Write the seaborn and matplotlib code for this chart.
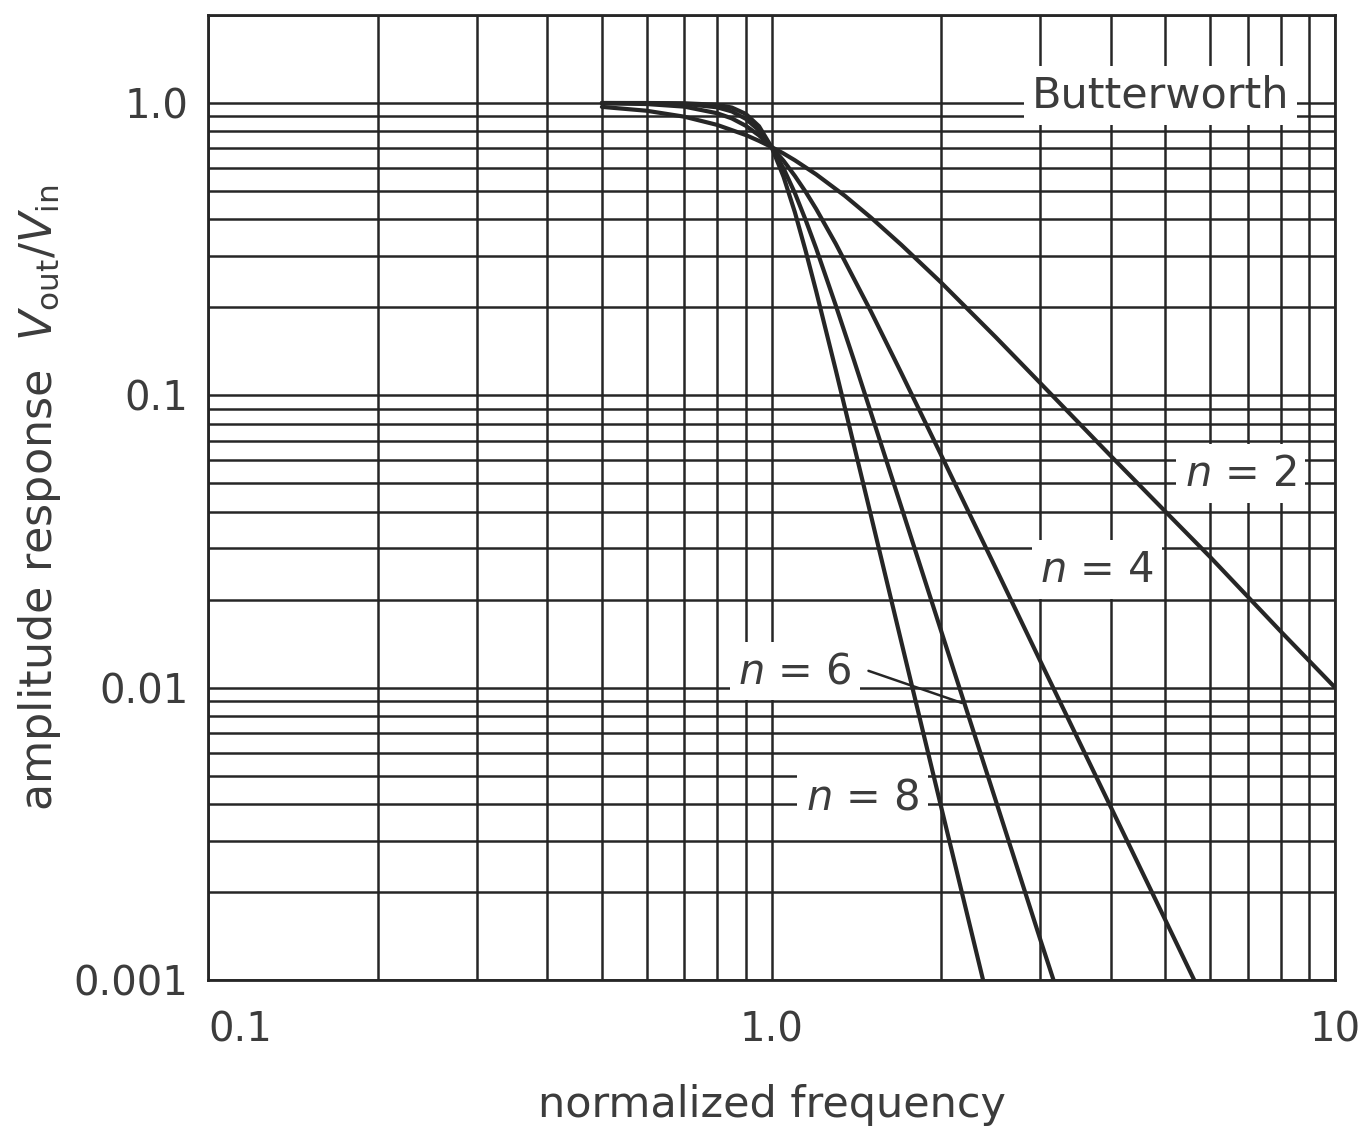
import numpy as np
import pandas as pd
import seaborn as sns
import matplotlib.pyplot as plt
from matplotlib.ticker import LogLocator, NullFormatter, FixedLocator, FixedFormatter

# values (normalized frequency -> Vout/Vin)
freq_n2 = [0.5, 0.6, 0.7, 0.8, 0.9, 0.95, 1.0, 1.05, 1.1, 1.2, 1.35, 1.5, 1.7, 2.0, 2.5, 3.0, 4.0, 5.0, 6.0, 8.0, 10.0]
amp_n2 = [0.970, 0.941, 0.898, 0.842, 0.777, 0.742, 0.707, 0.672, 0.637, 0.570, 0.481, 0.406, 0.327, 0.243, 0.158, 0.110, 0.062, 0.040, 0.028, 0.0156, 0.0100]

freq_n4 = [0.5, 0.6, 0.7, 0.8, 0.85, 0.9, 0.95, 1.0, 1.05, 1.1, 1.15, 1.2, 1.3, 1.5, 1.7, 2.0, 2.5, 3.0, 4.0, 5.0, 6.0]
amp_n4 = [0.998, 0.992, 0.972, 0.923, 0.886, 0.836, 0.775, 0.707, 0.635, 0.563, 0.496, 0.434, 0.330, 0.194, 0.119, 0.0624, 0.0256, 0.0123, 0.0039, 0.0016, 0.00077]

freq_n6 = [0.5, 0.6, 0.7, 0.8, 0.85, 0.9, 0.95, 1.0, 1.05, 1.1, 1.15, 1.2, 1.3, 1.4, 1.5, 1.7, 2.0, 2.5, 3.0, 3.3]
amp_n6 = [1.0, 0.999, 0.993, 0.967, 0.936, 0.883, 0.806, 0.707, 0.598, 0.492, 0.397, 0.318, 0.203, 0.132, 0.0875, 0.0414, 0.0156, 0.0041, 0.00137, 0.00078]

freq_n8 = [0.5, 0.6, 0.7, 0.8, 0.85, 0.9, 0.95, 1.0, 1.05, 1.1, 1.15, 1.2, 1.3, 1.4, 1.5, 1.7, 2.0, 2.5]
amp_n8 = [1.0, 1.0, 0.998, 0.986, 0.965, 0.918, 0.833, 0.707, 0.560, 0.423, 0.311, 0.227, 0.122, 0.0676, 0.0390, 0.0143, 0.0039, 0.00066]

orders = ["n = 2", "n = 4", "n = 6", "n = 8"]
x_ticks = [0.1, 1.0, 10]
x_ticklabels = ["0.1", "1.0", "10"]
y_ticks = [0.001, 0.01, 0.1, 1.0]
y_ticklabels = ["0.001", "0.01", "0.1", "1.0"]

df = pd.concat([
    pd.DataFrame({"freq": f, "amp": a, "order": o})
    for f, a, o in zip([freq_n2, freq_n4, freq_n6, freq_n8],
                       [amp_n2, amp_n4, amp_n6, amp_n8], orders)
])

sns.set_style("white")
plt.rcParams["font.family"] = ["DejaVu Sans"]
plt.rcParams["mathtext.fontset"] = "dejavusans"

ink = "#262626"
txt = "#3c3c3c"

fig = plt.figure(figsize=(13.61, 11.29), dpi=100)
ax = fig.add_axes([0.1528, 0.132, 0.981 - 0.1528, 0.9867 - 0.132])

sns.lineplot(data=df, x="freq", y="amp", hue="order", palette=[ink] * 4,
             linewidth=3.0, legend=False, sort=False, estimator=None, ax=ax, zorder=3)

ax.set_xscale("log")
ax.set_yscale("log")
ax.set_xlim(0.1, 10)
ax.set_ylim(0.001, 2.0)

# dense log grid like graph paper
ax.xaxis.set_minor_locator(LogLocator(base=10, subs=np.arange(2, 10)))
ax.yaxis.set_minor_locator(LogLocator(base=10, subs=np.arange(2, 10)))
ax.xaxis.set_minor_formatter(NullFormatter())
ax.yaxis.set_minor_formatter(NullFormatter())
ax.grid(True, which="both", color=ink, linewidth=1.8)
ax.set_axisbelow(True)

ax.xaxis.set_major_locator(FixedLocator(x_ticks))
ax.xaxis.set_major_formatter(FixedFormatter(x_ticklabels))
ax.yaxis.set_major_locator(FixedLocator(y_ticks))
ax.yaxis.set_major_formatter(FixedFormatter(y_ticklabels))
ax.tick_params(which="both", length=0)
ax.tick_params(axis="x", labelsize=29, labelcolor=txt, pad=22)
ax.tick_params(axis="y", labelsize=29, labelcolor=txt, pad=14)
xl = ax.get_xticklabels()
xl[0].set_ha("left")

for s in ax.spines.values():
    s.set_color(ink)
    s.set_linewidth(2.0)

ax.set_xlabel("normalized frequency", fontsize=31, color=txt, labelpad=24)
ax.set_ylabel(r"amplitude response  $V_{\rm out}/V_{\rm in}$", fontsize=32, color=txt, labelpad=8)

box = dict(facecolor="white", edgecolor="none", pad=6)
ax.text(4.9, 1.06, "Butterworth", fontsize=31, color=txt, ha="center", va="center", bbox=box, zorder=4)
ax.text(6.8, 0.054, r"$n$ = 2", fontsize=30, color=txt, ha="center", va="center", bbox=box, zorder=4)
ax.text(3.78, 0.0253, r"$n$ = 4", fontsize=30, color=txt, ha="center", va="center", bbox=box, zorder=4)
ax.text(1.10, 0.0114, r"$n$ = 6", fontsize=30, color=txt, ha="center", va="center", bbox=box, zorder=4)
ax.text(1.45, 0.0042, r"$n$ = 8", fontsize=30, color=txt, ha="center", va="center", bbox=box, zorder=4)
ax.annotate("", xy=(2.2, 0.0088), xytext=(1.47, 0.0115),
            arrowprops=dict(arrowstyle="-", color=ink, lw=1.8), zorder=5)

fig.savefig("out.png", dpi=100)
